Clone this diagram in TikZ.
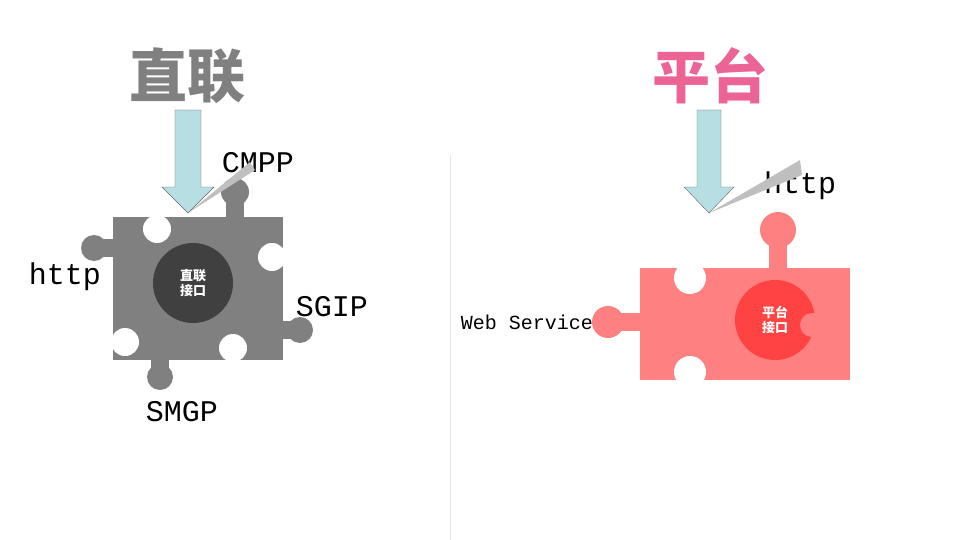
\documentclass[tikz,border=0pt]{standalone}
\usepackage{fontspec}
\setmonofont{Liberation Mono}
\newfontfamily\cjk{Noto Sans CJK SC}
\definecolor{puzgray}{RGB}{128,128,128}
\definecolor{puzpink}{RGB}{255,128,128}
\definecolor{arrowblue}{RGB}{183,222,226}
\definecolor{titlepink}{RGB}{236,100,150}
\tikzset{
  proto/.style={font=\ttfamily\fontsize{30}{30}\selectfont},
  hub/.style={circle,minimum size=80pt,text=white,font=\cjk\bfseries\fontsize{13}{15}\selectfont,align=center},
  title/.style={font=\cjk\bfseries\fontsize{58}{58}\selectfont},
}
\begin{document}
\begin{tikzpicture}[x=1pt,y=-1pt]
\useasboundingbox (0,0) rectangle (960,540);
\draw[gray!20] (450,155) -- (450,540);

% left puzzle
\fill[puzgray] (113,217) rectangle (283,360);
\foreach \p/\r in {{(94,248)/13},{(235,192)/14},{(300,330)/13},{(160,377)/13}}
  \fill[puzgray] \p circle (\r);
\fill[puzgray] (226,192) rectangle (244,217);
\fill[puzgray] (283,321) rectangle (300,339);
\fill[puzgray] (151,360) rectangle (169,377);
\fill[puzgray] (94,239) rectangle (113,257);
\foreach \p in {(157,229),(272,257),(233,348),(125,342)}
  \fill[white] \p circle (14);
\node[hub,fill=black!75] (hubL) at (193,283) {直联\\接口};
\node[title,text=puzgray] (titleL) at (187,76) {直联};
\node[proto] (cmpp) at (258,163) {CMPP};
\node[proto] (httpL) at (65,277) {http};
\node[proto] (sgip) at (332,307) {SGIP};
\node[proto] (smgp) at (182,412) {SMGP};
\fill[gray!50] (188,213) -- (250,162) -- (255,170) -- cycle;
\draw[black!60,fill=arrowblue] (175,110) -- (201,110) -- (201,187) -- (214,187)
  -- (188,213) -- (162,187) -- (175,187) -- cycle;

% right puzzle
\fill[puzpink] (640,268) rectangle (850,380);
\fill[puzpink] (608,322) circle (16);
\fill[puzpink] (608,313) rectangle (640,331);
\fill[puzpink] (778,230) circle (18);
\fill[puzpink] (769,230) rectangle (787,268);
\foreach \p in {(690,278),(690,372)}
  \fill[white] \p circle (16);
\node[hub,fill=red!80,opacity=0.8] (hubR) at (775,320) {};
\node[hub] at (775,320) {平台\\接口};
\fill[puzpink] (812,325) circle (12);
\node[title,text=titlepink] (titleR) at (710,76) {平台};
\node[proto] (httpR) at (800,186) {http};
\node[proto,font=\ttfamily\fontsize{20}{20}\selectfont] (ws) at (527,322) {Web Service};
\fill[gray!50] (709,213) -- (800,160) -- (802,175) -- cycle;
\draw[black!60,fill=arrowblue] (697,110) -- (721,110) -- (721,187) -- (734,187)
  -- (709,213) -- (684,187) -- (697,187) -- cycle;
\end{tikzpicture}
\end{document}
